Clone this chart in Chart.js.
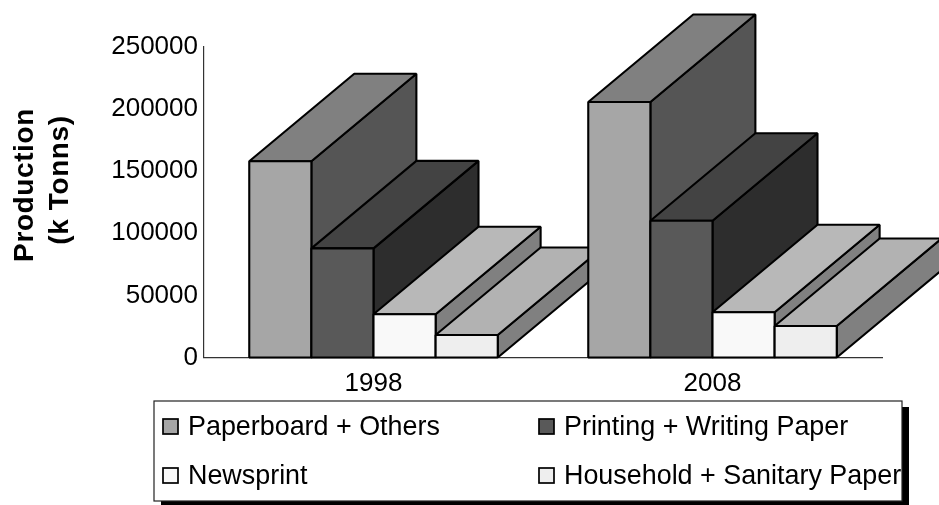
<!DOCTYPE html>
<html>
<head>
<meta charset="utf-8">
<style>
  html, body { margin: 0; padding: 0; background: #fff; overflow: hidden; }
  canvas { display: block; }
</style>
<script src="https://cdn.jsdelivr.net/npm/chart.js@4/dist/chart.umd.js"></script>
</head>
<body>
<canvas id="chart" width="939" height="505"></canvas>
<script>
// Paper production by grade, in thousand tonnes
const years = ['1998', '2008'];
const seriesNames = ['Paperboard + Others', 'Printing + Writing Paper', 'Newsprint', 'Household + Sanitary Paper'];
const paperboard = [158000, 205700];
const printing = [87900, 110100];
const newsprint = [34800, 36400];
const household = [18100, 25400];
const axisTitleLines = ['Production', '(k Tonns)'];

const frontColors = ['#a6a6a6', '#595959', '#f9f9f9', '#eeeeee'];
const sideColors = ['#555555', '#2d2d2d', '#808080', '#808080'];
const topColors = ['#808080', '#434343', '#b8b8b8', '#b2b2b2'];

const FONT = '"Liberation Sans", Arial, sans-serif';
const DEPTH_X = 105;
const DEPTH_Y = 87.5;
const EDGE = 2.1;

function face(ctx, pts, fill) {
  ctx.beginPath();
  pts.forEach((p, i) => i ? ctx.lineTo(p[0], p[1]) : ctx.moveTo(p[0], p[1]));
  ctx.closePath();
  ctx.fillStyle = fill;
  ctx.fill();
  ctx.stroke();
}

// Extruded bars: painted left to right so nearer columns overlap the ones before
const extrudedBars = {
  id: 'extrudedBars',
  beforeDatasetDraw() { return false; },
  afterDatasetsDraw(chart) {
    const ctx = chart.ctx;
    ctx.save();
    ctx.strokeStyle = '#000';
    ctx.lineWidth = EDGE;
    ctx.lineJoin = 'bevel';
    years.forEach((_, c) => {
      chart.data.datasets.forEach((_, d) => {
        const bar = chart.getDatasetMeta(d).data[c];
        const l = bar.x - bar.width / 2, r = bar.x + bar.width / 2;
        const t = bar.y, b = bar.base;
        face(ctx, [[r, t], [r + DEPTH_X, t - DEPTH_Y], [r + DEPTH_X, b - DEPTH_Y], [r, b]], sideColors[d]);
        face(ctx, [[l, t], [l + DEPTH_X, t - DEPTH_Y], [r + DEPTH_X, t - DEPTH_Y], [r, t]], topColors[d]);
        bar.draw(ctx);
        ctx.strokeRect(l, t, r - l, b - t);
      });
    });
    ctx.restore();
  }
};

// Rotated two-line axis caption, set a little above the plot's mid height
const axisCaption = {
  id: 'axisCaption',
  afterDraw(chart) {
    const ctx = chart.ctx;
    ctx.save();
    ctx.font = 'bold 28px ' + FONT;
    ctx.fillStyle = '#000';
    ctx.textAlign = 'center';
    ctx.textBaseline = 'alphabetic';
    ctx.letterSpacing = '0.6px';
    [[33, 185], [68, 180]].forEach((pos, i) => {
      ctx.save();
      ctx.translate(pos[0], pos[1]);
      ctx.rotate(-Math.PI / 2);
      ctx.fillText(axisTitleLines[i], 0, 0);
      ctx.restore();
    });
    ctx.restore();
  }
};

// Boxed two-column key with a hard drop shadow
const keyBox = {
  id: 'keyBox',
  afterDraw(chart) {
    const ctx = chart.ctx;
    const x = 154, y = 401, w = 748, h = 100;
    ctx.save();
    ctx.fillStyle = '#000';
    ctx.fillRect(x + 7, y + 6, w, h);
    ctx.fillStyle = '#fff';
    ctx.fillRect(x, y, w, h);
    ctx.save();
    ctx.beginPath();
    ctx.rect(x, y, w, h);
    ctx.clip();
    const columns = [163, 539];
    const rows = [419, 468];
    ctx.font = '26.9px ' + FONT;
    ctx.textBaseline = 'alphabetic';
    ctx.textAlign = 'left';
    seriesNames.forEach((name, i) => {
      const cx = columns[i % 2], cy = rows[Math.floor(i / 2)];
      ctx.fillStyle = frontColors[i];
      ctx.strokeStyle = '#000';
      ctx.lineWidth = 1.7;
      ctx.fillRect(cx, cy, 15, 15);
      ctx.strokeRect(cx, cy, 15, 15);
      ctx.fillStyle = '#000';
      ctx.fillText(name, cx + 25, cy + 16);
    });
    ctx.restore();
    ctx.strokeStyle = '#222';
    ctx.lineWidth = 1.2;
    ctx.strokeRect(x, y, w, h);
    ctx.restore();
  }
};

const allSeries = [paperboard, printing, newsprint, household];

new Chart(document.getElementById('chart'), {
  type: 'bar',
  data: {
    labels: years,
    datasets: allSeries.map((values, i) => ({
      label: seriesNames[i],
      data: values,
      backgroundColor: frontColors[i],
      borderWidth: 0,
      categoryPercentage: 0.733,
      barPercentage: 1
    }))
  },
  plugins: [extrudedBars, axisCaption, keyBox],
  options: {
    responsive: false,
    animation: false,
    events: [],
    layout: { padding: { top: 47, right: 57, left: 0, bottom: 0 } },
    plugins: { legend: { display: false }, tooltip: { enabled: false }, title: { display: false } },
    scales: {
      x: {
        grid: { display: false, drawTicks: false },
        border: { display: true, color: '#333', width: 1.2 },
        ticks: { color: '#000', font: { family: FONT, size: 26 }, padding: 11, maxRotation: 0 },
        afterFit(scale) { scale.height = 147.5; }
      },
      y: {
        min: 0,
        max: 250000,
        grid: { display: false, drawTicks: false },
        border: { display: true, color: '#333', width: 1.2 },
        ticks: {
          stepSize: 50000,
          color: '#000',
          font: { family: FONT, size: 26 },
          padding: 6,
          callback: value => String(value)
        },
        afterFit(scale) { scale.width = 204; }
      }
    }
  }
});
</script>
</body>
</html>
